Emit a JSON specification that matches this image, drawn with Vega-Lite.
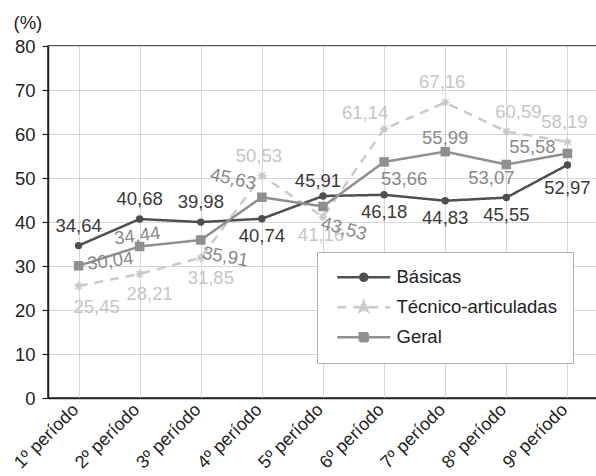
{
  "$schema": "https://vega.github.io/schema/vega-lite/v6.json",
  "autosize": "none",
  "padding": {"left": 48, "top": 46, "right": 0, "bottom": 78},
  "width": 550,
  "height": 352,
  "background": "white",
  "data": {
    "values": [
      {"periodo": "1º período", "n": 1, "serie": "Básicas", "valor": 34.64},
      {"periodo": "2º período", "n": 2, "serie": "Básicas", "valor": 40.68},
      {"periodo": "3º período", "n": 3, "serie": "Básicas", "valor": 39.98},
      {"periodo": "4º período", "n": 4, "serie": "Básicas", "valor": 40.74},
      {"periodo": "5º período", "n": 5, "serie": "Básicas", "valor": 45.91},
      {"periodo": "6º período", "n": 6, "serie": "Básicas", "valor": 46.18},
      {"periodo": "7º período", "n": 7, "serie": "Básicas", "valor": 44.83},
      {"periodo": "8º período", "n": 8, "serie": "Básicas", "valor": 45.55},
      {"periodo": "9º período", "n": 9, "serie": "Básicas", "valor": 52.97},
      {"periodo": "1º período", "n": 1, "serie": "Técnico-articuladas", "valor": 25.45},
      {"periodo": "2º período", "n": 2, "serie": "Técnico-articuladas", "valor": 28.21},
      {"periodo": "3º período", "n": 3, "serie": "Técnico-articuladas", "valor": 31.85},
      {"periodo": "4º período", "n": 4, "serie": "Técnico-articuladas", "valor": 50.53},
      {"periodo": "5º período", "n": 5, "serie": "Técnico-articuladas", "valor": 41.16},
      {"periodo": "6º período", "n": 6, "serie": "Técnico-articuladas", "valor": 61.14},
      {"periodo": "7º período", "n": 7, "serie": "Técnico-articuladas", "valor": 67.16},
      {"periodo": "8º período", "n": 8, "serie": "Técnico-articuladas", "valor": 60.59},
      {"periodo": "9º período", "n": 9, "serie": "Técnico-articuladas", "valor": 58.19},
      {"periodo": "1º período", "n": 1, "serie": "Geral", "valor": 30.04},
      {"periodo": "2º período", "n": 2, "serie": "Geral", "valor": 34.44},
      {"periodo": "3º período", "n": 3, "serie": "Geral", "valor": 35.91},
      {"periodo": "4º período", "n": 4, "serie": "Geral", "valor": 45.63},
      {"periodo": "5º período", "n": 5, "serie": "Geral", "valor": 43.53},
      {"periodo": "6º período", "n": 6, "serie": "Geral", "valor": 53.66},
      {"periodo": "7º período", "n": 7, "serie": "Geral", "valor": 55.99},
      {"periodo": "8º período", "n": 8, "serie": "Geral", "valor": 53.07},
      {"periodo": "9º período", "n": 9, "serie": "Geral", "valor": 55.58}
    ]
  },
  "encoding": {
    "x": {
      "field": "periodo", "type": "ordinal",
      "scale": {"type": "point", "padding": 0.5},
      "axis": {"title": null, "ticks": false, "grid": true, "labelAngle": -45, "labelAlign": "right", "labelBaseline": "middle", "labelPadding": 9, "labelOffset": -3, "labelFontSize": 18}
    },
    "y": {
      "field": "valor", "type": "quantitative",
      "scale": {"domain": [0, 80], "nice": false},
      "axis": {
        "values": [0, 10, 20, 30, 40, 50, 60, 70, 80],
        "format": "d",
        "grid": true, "ticks": true, "tickSize": 6, "labelPadding": 7,
        "title": "(%)", "titleAngle": 0, "titleAlign": "left", "titleBaseline": "middle",
        "titleX": -35, "titleY": -24, "titleFontWeight": "normal", "titleFontSize": 18.5, "titleColor": "#222222"
      }
    }
  },
  "layer": [
    {
      "mark": {"type": "line", "strokeWidth": 2.5},
      "encoding": {
        "color": {
          "field": "serie", "type": "nominal",
          "scale": {"domain": ["Básicas", "Técnico-articuladas", "Geral"], "range": ["#4f4f4f", "#cacaca", "#8f8f8f"]},
          "legend": {
            "orient": "none", "legendX": 269, "legendY": 206, "title": null,
            "fillColor": "white", "strokeColor": "#b0b0b0", "padding": 16,
            "labelFontSize": 18.5, "labelColor": "#222222", "labelFont": "Liberation Sans", "labelLimit": 400,
            "symbolSize": 100, "symbolStrokeWidth": 2.5, "labelOffset": 45, "rowPadding": 10,
            "labelExpr": "datum.label == 'Básicas' ? ' Básicas' : datum.label",
            "encode": {
              "symbols": {
                "update": {
                  "shape": {"signal": "datum.value === 'Básicas' ? 'M-1,0H9.6M5,0A0.7,0.7,0,1,1,3.6,0A0.7,0.7,0,1,1,5,0Z' : datum.value === 'Geral' ? 'M-1,0H9.6M3.5,-0.8H5.1V0.8H3.5Z' : 'M-1,0H9.6M5.3,0L4.716,0.172L5.007,0.707L4.472,0.416L4.3,1L4.128,0.416L3.593,0.707L3.884,0.172L3.3,0L3.884,-0.172L3.593,-0.707L4.128,-0.416L4.3,-1L4.472,-0.416L5.007,-0.707L4.716,-0.172Z'"},
                  "fill": {"scale": "color", "field": "value"}
                }
              }
            }
          }
        },
        "strokeDash": {
          "field": "serie", "type": "nominal",
          "scale": {"domain": ["Básicas", "Técnico-articuladas", "Geral"], "range": [[1, 0], [9, 7], [1, 0]]}
        }
      }
    },
    {
      "transform": [{"filter": "datum.serie == 'Básicas'"}],
      "mark": {"type": "point", "shape": "circle", "filled": true, "size": 55, "color": "#4f4f4f", "opacity": 1}
    },
    {
      "transform": [{"filter": "datum.serie == 'Técnico-articuladas'"}],
      "mark": {"type": "point", "shape": "M1,0L0.416,0.172L0.707,0.707L0.172,0.416L0,1L-0.172,0.416L-0.707,0.707L-0.416,0.172L-1,0L-0.416,-0.172L-0.707,-0.707L-0.172,-0.416L0,-1L0.172,-0.416L0.707,-0.707L0.416,-0.172Z", "filled": true, "size": 120, "color": "#cacaca", "opacity": 1}
    },
    {
      "transform": [{"filter": "datum.serie == 'Geral'"}],
      "mark": {"type": "point", "shape": "square", "filled": true, "size": 90, "color": "#8f8f8f", "opacity": 1}
    },
    {
      "transform": [{"filter": "datum.serie == 'Básicas' && indexof([1,2,3], datum.n) >= 0"}],
      "mark": {"type": "text", "dy": -20, "fontSize": 18.5, "color": "#3a3a3a"},
      "encoding": {"text": {"field": "valor", "type": "quantitative", "format": ".2f"}}
    },
    {
      "transform": [{"filter": "datum.serie == 'Básicas' && datum.n == 5"}],
      "mark": {"type": "text", "dx": -5, "dy": -15, "fontSize": 18.5, "color": "#3a3a3a"},
      "encoding": {"text": {"field": "valor", "type": "quantitative", "format": ".2f"}}
    },
    {
      "transform": [{"filter": "datum.serie == 'Básicas' && indexof([4,6,7,8], datum.n) >= 0"}],
      "mark": {"type": "text", "dy": 17, "fontSize": 18.5, "color": "#3a3a3a"},
      "encoding": {"text": {"field": "valor", "type": "quantitative", "format": ".2f"}}
    },
    {
      "transform": [{"filter": "datum.serie == 'Básicas' && datum.n == 9"}],
      "mark": {"type": "text", "dy": 23, "fontSize": 18.5, "color": "#3a3a3a"},
      "encoding": {"text": {"field": "valor", "type": "quantitative", "format": ".2f"}}
    },
    {
      "transform": [{"filter": "datum.serie == 'Técnico-articuladas' && datum.n == 1"}],
      "mark": {"type": "text", "dx": 18, "dy": 21, "fontSize": 18.5, "color": "#c6c6c6"},
      "encoding": {"text": {"field": "valor", "type": "quantitative", "format": ".2f"}}
    },
    {
      "transform": [{"filter": "datum.serie == 'Técnico-articuladas' && indexof([2,3], datum.n) >= 0"}],
      "mark": {"type": "text", "dx": 10, "dy": 20, "fontSize": 18.5, "color": "#c6c6c6"},
      "encoding": {"text": {"field": "valor", "type": "quantitative", "format": ".2f"}}
    },
    {
      "transform": [{"filter": "datum.serie == 'Técnico-articuladas' && datum.n == 5"}],
      "mark": {"type": "text", "dx": -2, "dy": 18, "fontSize": 18.5, "color": "#c6c6c6"},
      "encoding": {"text": {"field": "valor", "type": "quantitative", "format": ".2f"}}
    },
    {
      "transform": [{"filter": "datum.serie == 'Técnico-articuladas' && indexof([4,7,9], datum.n) >= 0"}],
      "mark": {"type": "text", "dx": -3, "dy": -20, "fontSize": 18.5, "color": "#c6c6c6"},
      "encoding": {"text": {"field": "valor", "type": "quantitative", "format": ".2f"}}
    },
    {
      "transform": [{"filter": "datum.serie == 'Técnico-articuladas' && datum.n == 6"}],
      "mark": {"type": "text", "dx": -19, "dy": -16, "fontSize": 18.5, "color": "#c6c6c6"},
      "encoding": {"text": {"field": "valor", "type": "quantitative", "format": ".2f"}}
    },
    {
      "transform": [{"filter": "datum.serie == 'Técnico-articuladas' && datum.n == 8"}],
      "mark": {"type": "text", "dx": 12, "dy": -19, "fontSize": 18.5, "color": "#c6c6c6"},
      "encoding": {"text": {"field": "valor", "type": "quantitative", "format": ".2f"}}
    },
    {
      "transform": [{"filter": "datum.serie == 'Geral' && datum.n == 1"}],
      "mark": {"type": "text", "dx": 32, "dy": -1, "angle": -7, "fontSize": 18.5, "color": "#8a8a8a"},
      "encoding": {"text": {"field": "valor", "type": "quantitative", "format": ".2f"}}
    },
    {
      "transform": [{"filter": "datum.serie == 'Geral' && datum.n == 2"}],
      "mark": {"type": "text", "dx": -1, "dy": -11, "angle": -7, "fontSize": 18.5, "color": "#8a8a8a"},
      "encoding": {"text": {"field": "valor", "type": "quantitative", "format": ".2f"}}
    },
    {
      "transform": [{"filter": "datum.serie == 'Geral' && datum.n == 3"}],
      "mark": {"type": "text", "dx": 27, "dy": 12, "angle": 10, "fontSize": 18.5, "color": "#8a8a8a"},
      "encoding": {"text": {"field": "valor", "type": "quantitative", "format": ".2f"}}
    },
    {
      "transform": [{"filter": "datum.serie == 'Geral' && datum.n == 4"}],
      "mark": {"type": "text", "dx": -32, "dy": -12, "angle": 12, "fontSize": 18.5, "color": "#8a8a8a"},
      "encoding": {"text": {"field": "valor", "type": "quantitative", "format": ".2f"}}
    },
    {
      "transform": [{"filter": "datum.serie == 'Geral' && datum.n == 5"}],
      "mark": {"type": "text", "dx": 26, "dy": 16, "angle": 15, "fontSize": 18.5, "color": "#8a8a8a"},
      "encoding": {"text": {"field": "valor", "type": "quantitative", "format": ".2f"}}
    },
    {
      "transform": [{"filter": "datum.serie == 'Geral' && datum.n == 6"}],
      "mark": {"type": "text", "dx": 20, "dy": 17, "fontSize": 18.5, "color": "#8a8a8a"},
      "encoding": {"text": {"field": "valor", "type": "quantitative", "format": ".2f"}}
    },
    {
      "transform": [{"filter": "datum.serie == 'Geral' && datum.n == 7"}],
      "mark": {"type": "text", "dx": 0, "dy": -14, "fontSize": 18.5, "color": "#8a8a8a"},
      "encoding": {"text": {"field": "valor", "type": "quantitative", "format": ".2f"}}
    },
    {
      "transform": [{"filter": "datum.serie == 'Geral' && datum.n == 8"}],
      "mark": {"type": "text", "dx": -15, "dy": 14, "fontSize": 18.5, "color": "#8a8a8a"},
      "encoding": {"text": {"field": "valor", "type": "quantitative", "format": ".2f"}}
    },
    {
      "transform": [{"filter": "datum.serie == 'Geral' && datum.n == 9"}],
      "mark": {"type": "text", "dx": -35, "dy": -6, "fontSize": 18.5, "color": "#8a8a8a"},
      "encoding": {"text": {"field": "valor", "type": "quantitative", "format": ".2f"}}
    }
  ],
  "config": {
    "font": "Liberation Sans",
    "locale": {"number": {"decimal": ",", "thousands": ".", "grouping": [3], "currency": ["", ""]}},
    "view": {"stroke": "#222222", "strokeWidth": 1.5},
    "axis": {
      "domainColor": "#222222", "domainWidth": 1.5,
      "gridColor": "#d6d6d6", "gridWidth": 1,
      "labelFont": "Liberation Sans", "labelFontSize": 18.5, "labelColor": "#222222",
      "tickColor": "#222222", "tickWidth": 1.2
    },
    "text": {"font": "Liberation Sans", "baseline": "middle", "align": "center"}
  }
}
